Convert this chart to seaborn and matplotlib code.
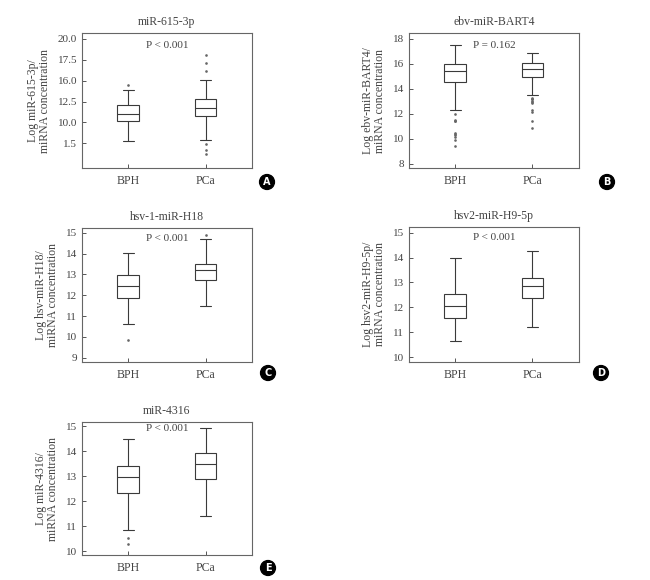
import pandas as pd
import seaborn as sns
import matplotlib.pyplot as plt

groups = ["BPH", "PCa"]

# five-number summaries: [low whisker, Q1, median, Q3, high whisker]
a_bph = [7.78, 10.18, 11.07, 12.03, 13.87]
a_pca = [7.94, 10.83, 11.74, 12.83, 15.07]
a_out_bph = [14.47]
a_out_pca = [18.08, 17.08, 16.15, 7.38, 6.66, 6.18]

b_bph = [12.32, 14.51, 15.41, 16.0, 17.52]
b_pca = [13.52, 14.96, 15.6, 16.05, 16.88]
b_out_bph = [11.95, 11.52, 11.45, 11.41, 10.45, 10.37, 10.29, 10.13, 9.87, 9.44]
b_out_pca = [13.28, 13.2, 13.15, 13.0, 12.92, 12.85, 12.32, 12.13, 11.39, 10.85]

c_bph = [10.63, 11.87, 12.45, 12.99, 14.05]
c_pca = [11.48, 12.72, 13.2, 13.52, 14.71]
c_out_bph = [9.85]
c_out_pca = [14.92]

d_bph = [10.63, 11.56, 12.07, 12.53, 14.0]
d_pca = [11.2, 12.39, 12.85, 13.18, 14.26]
d_out_bph = []
d_out_pca = []

e_bph = [10.85, 12.31, 12.96, 13.41, 14.49]
e_pca = [11.4, 12.87, 13.47, 13.95, 14.95]
e_out_bph = [10.53, 10.27]
e_out_pca = []

# panel A has odd tick labels in the original figure
a_ticks = [7.5, 10, 12.5, 15, 17.5, 20]
a_ticklabels = ["1.5", "10.0", "12.5", "16.0", "17.5", "20.0"]

sns.set_style("ticks")
plt.rcParams["font.family"] = ["Liberation Serif", "DejaVu Serif"]
plt.rcParams["xtick.direction"] = "in"
plt.rcParams["ytick.direction"] = "in"

line_col = "#3a3a3a"
text_col = "#444444"


def panel(ax, bph, pca, out_bph, out_pca, title, ylabel, ptext, ylim, ticks, ticklabels, p_y):
    df = pd.DataFrame({"group": ["BPH"] * len(bph) + ["PCa"] * len(pca),
                       "value": bph + pca})
    sns.boxplot(data=df, x="group", y="value", order=groups, whis=(0, 100),
                width=0.28, color="white", linecolor=line_col, linewidth=0.8,
                fliersize=0, ax=ax)
    outs = pd.DataFrame({"group": ["BPH"] * len(out_bph) + ["PCa"] * len(out_pca),
                         "value": out_bph + out_pca})
    if len(outs):
        sns.stripplot(data=outs, x="group", y="value", order=groups, jitter=False,
                      size=1.9, color="#666666", ax=ax)
    ax.set_xlim(-0.6, 1.6)
    ax.set_ylim(*ylim)
    ax.set_yticks(ticks)
    ax.set_yticklabels(ticklabels)
    ax.set_xlabel("")
    ax.set_ylabel(ylabel, fontsize=8.5, color=text_col, linespacing=1.0, labelpad=5)
    ax.set_title(title, fontsize=8.5, color=text_col, pad=6)
    ax.text(0.5, p_y, ptext, transform=ax.transAxes, ha="center", va="center",
            fontsize=8, color=text_col)
    ax.tick_params(length=3, width=0.7, colors="#555555", labelsize=8,
                   labelcolor=text_col)
    ax.tick_params(axis="x", labelsize=8.5, pad=5)
    for sp in ax.spines.values():
        sp.set_color("#666666")
        sp.set_linewidth(0.8)


fig = plt.figure(figsize=(6.5, 5.8), dpi=100)
ax_a = fig.add_axes([0.126, 0.710, 0.2615, 0.2328])
ax_b = fig.add_axes([0.629, 0.710, 0.2615, 0.2328])
ax_c = fig.add_axes([0.126, 0.376, 0.2615, 0.231])
ax_d = fig.add_axes([0.629, 0.376, 0.2615, 0.2328])
ax_e = fig.add_axes([0.126, 0.043, 0.2615, 0.2293])

panel(ax_a, a_bph, a_pca, a_out_bph, a_out_pca, "miR-615-3p",
      "Log miR-615-3p/\nmiRNA concentration", "P < 0.001",
      (4.53, 20.68), a_ticks, a_ticklabels, 0.91)
panel(ax_b, b_bph, b_pca, b_out_bph, b_out_pca, "ebv-miR-BART4",
      "Log ebv-miR-BART4/\nmiRNA concentration", "P = 0.162",
      (7.65, 18.45), [8, 10, 12, 14, 16, 18], ["8", "10", "12", "14", "16", "18"], 0.91)
panel(ax_c, c_bph, c_pca, c_out_bph, c_out_pca, "hsv-1-miR-H18",
      "Log hsv-miR-H18/\nmiRNA concentration", "P < 0.001",
      (8.79, 15.24), [9, 10, 11, 12, 13, 14, 15], ["9", "10", "11", "12", "13", "14", "15"], 0.92)
panel(ax_d, d_bph, d_pca, d_out_bph, d_out_pca, "hsv2-miR-H9-5p",
      "Log hsv2-miR-H9-5p/\nmiRNA concentration", "P < 0.001",
      (9.81, 15.23), [10, 11, 12, 13, 14, 15], ["10", "11", "12", "13", "14", "15"], 0.92)
panel(ax_e, e_bph, e_pca, e_out_bph, e_out_pca, "miR-4316",
      "Log miR-4316/\nmiRNA concentration", "P < 0.001",
      (9.84, 15.17), [10, 11, 12, 13, 14, 15], ["10", "11", "12", "13", "14", "15"], 0.955)

# circled panel letters
for letter, x, y in [("A", 267, 182), ("B", 607, 182), ("C", 268, 373),
                     ("D", 601, 373), ("E", 268, 568)]:
    fig.text(x / 650, 1 - y / 580, letter, ha="center", va="center",
             fontsize=7, fontweight="bold", color="white", family="DejaVu Sans",
             bbox=dict(boxstyle="circle,pad=0.25", fc="black", ec="black"))

fig.savefig("out.png", dpi=100)
